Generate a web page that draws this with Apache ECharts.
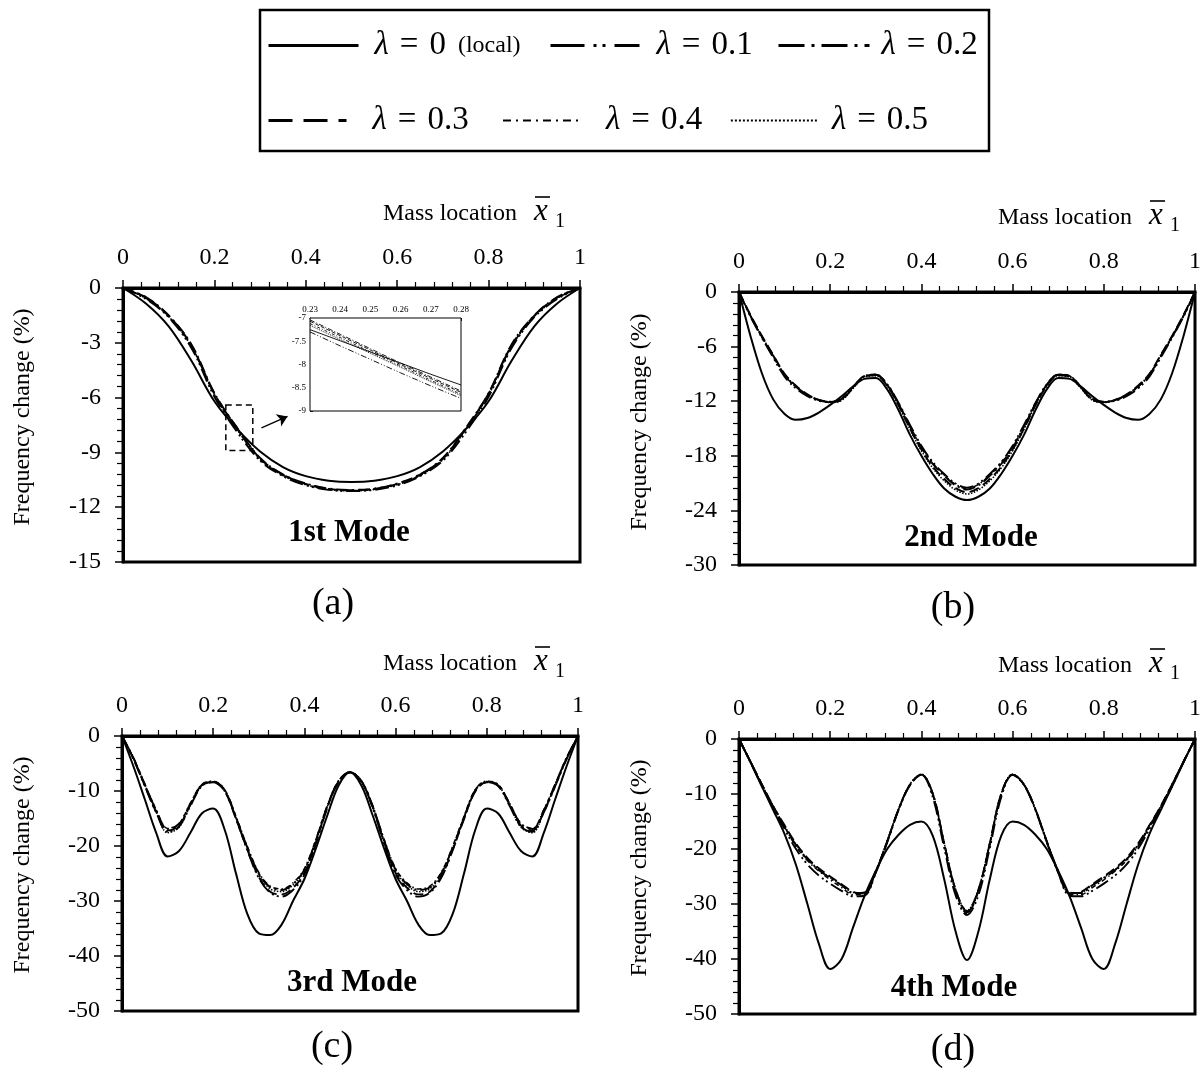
<!DOCTYPE html>
<html>
<head>
<meta charset="utf-8">
<script src="https://cdn.jsdelivr.net/npm/echarts/dist/echarts.min.js"></script>
<style>
  html, body { margin: 0; padding: 0; background: #fff; }
  #chart { width: 1202px; height: 1076px; }
</style>
</head>
<body>
<div id="chart"></div>
<script>
// ---- data -------------------------------------------------------------
const lambdaNames = ['λ = 0 (local)', 'λ = 0.1', 'λ = 0.2', 'λ = 0.3', 'λ = 0.4', 'λ = 0.5'];
const lambdaValues = ['0', '0.1', '0.2', '0.3', '0.4', '0.5'];
const modeTitles = ['1st Mode', '2nd Mode', '3rd Mode', '4th Mode'];
const panelLetters = ['(a)', '(b)', '(c)', '(d)'];
const xTickStep = 0.2;
const yLimits = [[-15, 0, 3], [-30, 0, 6], [-50, 0, 10], [-50, 0, 10]];

// mass location, mode 1
const xMode1 = [0, 0.05, 0.1, 0.15, 0.2, 0.25, 0.3, 0.35, 0.4, 0.45, 0.5, 0.55, 0.6, 0.65, 0.7, 0.75, 0.8, 0.85, 0.9, 0.95, 1];
// mass location, modes 2-4
const xFine = [0, 0.025, 0.05, 0.075, 0.1, 0.125, 0.15, 0.175, 0.2, 0.225, 0.25, 0.275, 0.3, 0.325, 0.35, 0.375, 0.4, 0.425, 0.45, 0.475, 0.5,
  0.525, 0.55, 0.575, 0.6, 0.625, 0.65, 0.675, 0.7, 0.725, 0.75, 0.775, 0.8, 0.825, 0.85, 0.875, 0.9, 0.925, 0.95, 0.975, 1];

// 1st mode frequency change (%)
const m1_l0 = [0, -0.85, -2.1, -4.0, -6.2, -7.73, -8.95, -9.8, -10.3, -10.55, -10.62, -10.55, -10.3, -9.8, -8.95, -7.73, -6.2, -4.0, -2.1, -0.85, 0];
const m1_l1 = [0, -0.6, -1.6, -3.3, -5.95, -7.89, -9.45, -10.3, -10.8, -11.05, -11.12, -11.05, -10.8, -10.3, -9.45, -7.89, -5.95, -3.3, -1.6, -0.6, 0];
const m1_l2 = [0, -0.5, -1.5, -3.1, -5.75, -7.66, -9.3, -10.2, -10.7, -10.98, -11.05, -10.98, -10.7, -10.2, -9.3, -7.66, -5.75, -3.1, -1.5, -0.5, 0];
const m1_l3 = [0, -0.52, -1.52, -3.15, -5.78, -7.69, -9.33, -10.22, -10.72, -11.0, -11.07, -11.0, -10.72, -10.22, -9.33, -7.69, -5.78, -3.15, -1.52, -0.52, 0];
const m1_l4 = [0, -0.55, -1.55, -3.2, -5.82, -7.73, -9.36, -10.25, -10.75, -11.02, -11.09, -11.02, -10.75, -10.25, -9.36, -7.73, -5.82, -3.2, -1.55, -0.55, 0];
const m1_l5 = [0, -0.57, -1.57, -3.22, -5.85, -7.76, -9.39, -10.27, -10.77, -11.03, -11.1, -11.03, -10.77, -10.27, -9.39, -7.76, -5.85, -3.22, -1.57, -0.57, 0];

// 2nd mode
const m2_l0 = [0, -4.8, -8.9, -11.8, -13.4, -14.05, -13.85, -13.25, -12.4, -11.45, -10.4, -9.55, -9.45, -10.7, -13.0, -15.7, -18.0, -20.0, -21.6, -22.5, -22.86,
  -22.5, -21.6, -20.0, -18.0, -15.7, -13.0, -10.7, -9.45, -9.55, -10.4, -11.45, -12.4, -13.25, -13.85, -14.05, -13.4, -11.8, -8.9, -4.8, 0];
const m2_l1 = [0, -2.7, -5.0, -7.2, -9.3, -10.6, -11.45, -11.95, -12.1, -11.75, -10.45, -9.25, -9.1, -10.15, -12.2, -14.6, -16.9, -18.7, -20.0, -21.05, -21.5,
  -21.05, -20.0, -18.7, -16.9, -14.6, -12.2, -10.15, -9.1, -9.25, -10.45, -11.75, -12.1, -11.95, -11.45, -10.6, -9.3, -7.2, -5.0, -2.7, 0];
const m2_l2 = [0, -2.6, -4.9, -7.0, -9.1, -10.4, -11.3, -11.85, -12.05, -11.75, -10.45, -9.25, -9.1, -10.2, -12.3, -14.8, -17.1, -18.9, -20.2, -21.25, -21.7,
  -21.25, -20.2, -18.9, -17.1, -14.8, -12.3, -10.2, -9.1, -9.25, -10.45, -11.75, -12.05, -11.85, -11.3, -10.4, -9.1, -7.0, -4.9, -2.6, 0];
const m2_l3 = [0, -2.5, -4.8, -6.9, -9.0, -10.3, -11.25, -11.85, -12.1, -11.85, -10.55, -9.3, -9.15, -10.3, -12.45, -15.0, -17.3, -19.2, -20.55, -21.55, -22.0,
  -21.55, -20.55, -19.2, -17.3, -15.0, -12.45, -10.3, -9.15, -9.3, -10.55, -11.85, -12.1, -11.85, -11.25, -10.3, -9.0, -6.9, -4.8, -2.5, 0];
const m2_l4 = [0, -2.6, -4.95, -7.1, -9.15, -10.45, -11.35, -11.9, -12.05, -11.7, -10.4, -9.2, -9.05, -10.15, -12.25, -14.75, -17.0, -18.8, -20.1, -21.15, -21.6,
  -21.15, -20.1, -18.8, -17.0, -14.75, -12.25, -10.15, -9.05, -9.2, -10.4, -11.7, -12.05, -11.9, -11.35, -10.45, -9.15, -7.1, -4.95, -2.6, 0];
const m2_l5 = [0, -2.55, -4.85, -6.95, -9.05, -10.35, -11.3, -11.9, -12.15, -11.9, -10.6, -9.35, -9.2, -10.35, -12.5, -15.1, -17.45, -19.35, -20.75, -21.75, -22.2,
  -21.75, -20.75, -19.35, -17.45, -15.1, -12.5, -10.35, -9.2, -9.35, -10.6, -11.9, -12.15, -11.9, -11.3, -10.35, -9.05, -6.95, -4.85, -2.55, 0];

// 3rd mode
const m3_l0 = [0, -5.5, -11.5, -17.6, -21.9, -20.9, -17.6, -14.1, -13.2, -17.0, -25.0, -32.4, -35.9, -36.2, -34.3, -30.0, -26.0, -20.5, -14.5, -9.0, -6.6,
  -9.0, -14.5, -20.5, -26.0, -30.0, -34.3, -36.2, -35.9, -32.4, -25.0, -17.0, -13.2, -14.1, -17.6, -20.9, -21.9, -17.6, -11.5, -5.5, 0];
const m3_l1 = [0, -4.2, -9.1, -13.9, -17.4, -16.5, -12.7, -9.1, -8.4, -10.0, -15.0, -20.8, -25.8, -28.5, -29.2, -28.0, -25.2, -19.6, -13.1, -8.3, -6.6,
  -8.3, -13.1, -19.6, -25.2, -28.0, -29.2, -28.5, -25.8, -20.8, -15.0, -10.0, -8.4, -9.1, -12.7, -16.5, -17.4, -13.9, -9.1, -4.2, 0];
const m3_l2 = [0, -4.0, -8.8, -13.5, -16.9, -16.0, -12.3, -8.9, -8.3, -9.8, -14.8, -20.3, -25.0, -27.5, -28.0, -26.9, -24.3, -19.0, -12.8, -8.2, -6.6,
  -8.2, -12.8, -19.0, -24.3, -26.9, -28.0, -27.5, -25.0, -20.3, -14.8, -9.8, -8.3, -8.9, -12.3, -16.0, -16.9, -13.5, -8.8, -4.0, 0];
const m3_l3 = [0, -4.1, -9.0, -13.8, -17.2, -16.3, -12.5, -9.0, -8.4, -10.0, -15.1, -20.7, -25.6, -28.3, -28.8, -27.6, -24.9, -19.4, -13.0, -8.3, -6.6,
  -8.3, -13.0, -19.4, -24.9, -27.6, -28.8, -28.3, -25.6, -20.7, -15.1, -10.0, -8.4, -9.0, -12.5, -16.3, -17.2, -13.8, -9.0, -4.1, 0];
const m3_l4 = [0, -3.9, -8.7, -13.4, -16.8, -15.9, -12.2, -8.8, -8.2, -9.7, -14.6, -20.1, -24.8, -27.3, -27.8, -26.7, -24.1, -18.8, -12.7, -8.1, -6.6,
  -8.1, -12.7, -18.8, -24.1, -26.7, -27.8, -27.3, -24.8, -20.1, -14.6, -9.7, -8.2, -8.8, -12.2, -15.9, -16.8, -13.4, -8.7, -3.9, 0];
const m3_l5 = [0, -4.0, -8.9, -13.7, -17.6, -16.6, -12.5, -9.0, -8.3, -9.9, -14.9, -20.4, -25.2, -27.8, -28.3, -27.1, -24.5, -19.1, -12.9, -8.2, -6.6,
  -8.2, -12.9, -19.1, -24.5, -27.1, -28.3, -27.8, -25.2, -20.4, -14.9, -9.9, -8.3, -9.0, -12.5, -16.6, -17.6, -13.7, -8.9, -4.0, 0];

// 4th mode
const m4_l0 = [0, -4.2, -8.6, -12.9, -17.3, -22.9, -30.0, -37.2, -41.8, -40.0, -34.3, -28.6, -24.0, -20.0, -17.4, -15.6, -15.0, -17.6, -25.5, -35.0, -40.2,
  -35.0, -25.5, -17.6, -15.0, -15.6, -17.4, -20.0, -24.0, -28.6, -34.3, -40.0, -41.8, -37.2, -30.0, -22.9, -17.3, -12.9, -8.6, -4.2, 0];
const m4_l1 = [0, -4.2, -8.5, -12.6, -16.4, -20.0, -22.8, -24.8, -26.3, -27.6, -28.6, -28.5, -24.3, -18.8, -12.9, -8.4, -6.5, -10.6, -19.8, -28.4, -32.0,
  -28.4, -19.8, -10.6, -6.5, -8.4, -12.9, -18.8, -24.3, -28.5, -28.6, -27.6, -26.3, -24.8, -22.8, -20.0, -16.4, -12.6, -8.5, -4.2, 0];
const m4_l2 = [0, -4.1, -8.3, -12.3, -15.9, -19.3, -21.9, -23.8, -25.3, -26.6, -28.0, -27.9, -24.0, -18.6, -12.8, -8.3, -6.5, -10.0, -19.0, -27.5, -31.5,
  -27.5, -19.0, -10.0, -6.5, -8.3, -12.8, -18.6, -24.0, -27.9, -28.0, -26.6, -25.3, -23.8, -21.9, -19.3, -15.9, -12.3, -8.3, -4.1, 0];
const m4_l3 = [0, -4.1, -8.2, -12.2, -15.7, -19.0, -21.6, -23.5, -25.0, -26.4, -27.8, -28.1, -24.2, -18.7, -12.8, -8.3, -6.5, -10.0, -19.0, -27.4, -31.3,
  -27.4, -19.0, -10.0, -6.5, -8.3, -12.8, -18.7, -24.2, -28.1, -27.8, -26.4, -25.0, -23.5, -21.6, -19.0, -15.7, -12.2, -8.2, -4.1, 0];
const m4_l4 = [0, -4.1, -8.3, -12.4, -16.0, -19.5, -22.1, -24.0, -25.6, -27.0, -28.3, -28.2, -24.1, -18.6, -12.8, -8.3, -6.5, -10.1, -19.2, -27.7, -31.8,
  -27.7, -19.2, -10.1, -6.5, -8.3, -12.8, -18.6, -24.1, -28.2, -28.3, -27.0, -25.6, -24.0, -22.1, -19.5, -16.0, -12.4, -8.3, -4.1, 0];
const m4_l5 = [0, -4.0, -8.2, -12.2, -15.8, -19.2, -21.8, -23.7, -25.2, -26.5, -27.9, -28.0, -24.0, -18.5, -12.7, -8.2, -6.4, -9.9, -18.9, -27.3, -31.2,
  -27.3, -18.9, -9.9, -6.4, -8.2, -12.7, -18.5, -24.0, -28.0, -27.9, -26.5, -25.2, -23.7, -21.8, -19.2, -15.8, -12.2, -8.2, -4.0, 0];

// magnified window of the 1st mode
const xInset = [0.23, 0.24, 0.25, 0.26, 0.27, 0.28];
const inset_l0 = [-7.25, -7.49, -7.73, -7.97, -8.21, -8.44];
const inset_l1 = [-7.30, -7.60, -7.89, -8.18, -8.46, -8.73];
const inset_l2 = [-7.04, -7.35, -7.66, -7.97, -8.27, -8.57];
const inset_l3 = [-7.07, -7.38, -7.69, -8.00, -8.30, -8.60];
const inset_l4 = [-7.12, -7.42, -7.73, -8.03, -8.34, -8.64];
const inset_l5 = [-7.16, -7.46, -7.76, -8.06, -8.37, -8.67];
const insetXRange = [0.23, 0.28, 0.01];
const insetYRange = [-9, -7, 0.5];

// ---- assembly ---------------------------------------------------------
const FONT = '"Liberation Serif", "Times New Roman", serif';
const panelX = [xMode1, xFine, xFine, xFine];
const panelY = [
  [m1_l0, m1_l1, m1_l2, m1_l3, m1_l4, m1_l5],
  [m2_l0, m2_l1, m2_l2, m2_l3, m2_l4, m2_l5],
  [m3_l0, m3_l1, m3_l2, m3_l3, m3_l4, m3_l5],
  [m4_l0, m4_l1, m4_l2, m4_l3, m4_l4, m4_l5]
];
const insetY = [inset_l0, inset_l1, inset_l2, inset_l3, inset_l4, inset_l5];

const grids = [
  { left: 123, top: 288, width: 457, height: 274 },
  { left: 739, top: 292, width: 456, height: 273 },
  { left: 122, top: 736, width: 456, height: 275 },
  { left: 739, top: 739, width: 456, height: 275 }
];

// line dash for each lambda: plot, legend, inset
const plotDash = ['solid', [14, 4, 2, 3, 2, 4], [12, 4, 2, 4], [10, 5], [5, 3, 1.5, 3], [1.5, 1.5]];
const plotWidth = [2, 1.9, 1.9, 1.9, 1.5, 1.5];
const legendDash = ['solid', [34, 9, 3, 6, 3, 9], [26, 7, 3, 7], [24, 11], [8, 5, 2, 5], [2, 2]];
const legendWidth = [3, 3, 3, 3, 2, 1.8];
const insetDash = ['solid', [6, 2, 1, 2, 1, 2], [5, 2, 1, 2], [4, 2], [3, 2, 1, 2], [1, 1]];

const pairs = (xs, ys) => xs.map((x, i) => [x, ys[i]]);

const option = {
  backgroundColor: '#fff',
  animation: false,
  color: ['#000'],
  grid: grids.map(g => Object.assign({
    show: true, borderColor: '#000', borderWidth: 3, backgroundColor: 'transparent',
    containLabel: false, outerBoundsMode: 'none'
  }, g)).concat([{
    left: 310, top: 318, width: 151, height: 93, show: true, borderColor: '#000', borderWidth: 1,
    backgroundColor: '#fff', containLabel: false, outerBoundsMode: 'none', z: 4
  }]),
  xAxis: grids.map((g, i) => ({
    gridIndex: i, type: 'value', position: 'top', min: 0, max: 1, interval: xTickStep,
    axisLine: { show: true, onZero: false, lineStyle: { color: '#000', width: 3 } },
    axisTick: { show: true, length: 8, lineStyle: { color: '#000', width: 1.5 } },
    minorTick: { show: true, splitNumber: 5, length: 6, lineStyle: { color: '#000', width: 1.2 } },
    axisLabel: { margin: 18, fontSize: 24, fontFamily: FONT, color: '#000' },
    splitLine: { show: false }, minorSplitLine: { show: false }
  })).concat([{
    gridIndex: 4, type: 'value', position: 'top', min: insetXRange[0], max: insetXRange[1], interval: insetXRange[2],
    axisLine: { show: true, onZero: false, lineStyle: { color: '#000', width: 1 } },
    axisTick: { show: true, inside: true, length: 3, lineStyle: { color: '#000', width: 0.8 } },
    minorTick: { show: true, splitNumber: 5, length: 2, lineStyle: { color: '#000', width: 0.6 } },
    axisLabel: { margin: 4, fontSize: 9, fontFamily: FONT, color: '#000' },
    splitLine: { show: false }
  }]),
  yAxis: grids.map((g, i) => ({
    gridIndex: i, type: 'value', position: 'left', min: yLimits[i][0], max: yLimits[i][1], interval: yLimits[i][2],
    axisLine: { show: true, onZero: false, lineStyle: { color: '#000', width: 3 } },
    axisTick: { show: true, length: 8, lineStyle: { color: '#000', width: 1.5 } },
    minorTick: { show: true, splitNumber: 5, length: 6, lineStyle: { color: '#000', width: 1.2 } },
    axisLabel: { margin: 22, fontSize: 24, fontFamily: FONT, color: '#000' },
    splitLine: { show: false }, minorSplitLine: { show: false }
  })).concat([{
    gridIndex: 4, type: 'value', position: 'left', min: insetYRange[0], max: insetYRange[1], interval: insetYRange[2],
    axisLine: { show: true, onZero: false, lineStyle: { color: '#000', width: 1 } },
    axisTick: { show: true, inside: true, length: 3, lineStyle: { color: '#000', width: 0.8 } },
    minorTick: { show: true, splitNumber: 5, length: 2, lineStyle: { color: '#000', width: 0.6 } },
    axisLabel: { margin: 4, fontSize: 9, fontFamily: FONT, color: '#000' },
    splitLine: { show: false }
  }]),
  series: [],
  legend: [],
  graphic: []
};

// curves of the four modes
panelY.forEach((set, p) => {
  set.forEach((ys, k) => {
    const s = {
      type: 'line', name: lambdaNames[k], xAxisIndex: p, yAxisIndex: p,
      data: pairs(panelX[p], ys), symbol: 'none', smooth: 0.35, silent: true,
      z: k === 0 ? 3 : 2,
      itemStyle: { color: '#000' },
      lineStyle: { color: '#000', width: plotWidth[k], type: plotDash[k] }
    };
    if (p === 0 && k === 0) {
      // dashed window that is magnified in the inset, plus pointer arrow
      s.markArea = {
        silent: true, label: { show: false },
        itemStyle: { color: 'rgba(0,0,0,0)', borderColor: '#000', borderWidth: 1.5, borderType: [6, 4] },
        data: [[{ coord: [0.225, -6.4] }, { coord: [0.284, -8.9] }]]
      };
      s.markLine = {
        silent: true, symbol: ['none', 'arrow'], symbolSize: 10, label: { show: false },
        lineStyle: { color: '#000', width: 1.3, type: 'solid' },
        itemStyle: { color: '#000' },
        data: [[{ coord: [0.303, -7.66] }, { coord: [0.36, -7.03] }]]
      };
    }
    option.series.push(s);
  });
});

// inset curves
insetY.forEach((ys, k) => {
  option.series.push({
    type: 'line', name: lambdaNames[k], xAxisIndex: 4, yAxisIndex: 4,
    data: pairs(xInset, ys), symbol: 'none', silent: true, z: 6,
    itemStyle: { color: '#000' },
    lineStyle: { color: '#000', width: 0.9, type: insetDash[k] }
  });
});

// legend entries, one component per entry
const legendSlots = [
  { x: 267, y: 48, w: 90, gap: 11 },
  { x: 549, y: 48, w: 89, gap: 12 },
  { x: 777, y: 48, w: 91, gap: 7 },
  { x: 267, y: 123, w: 78, gap: 21 },
  { x: 502, y: 123, w: 80, gap: 18 },
  { x: 730, y: 123, w: 87, gap: 9 }
];
legendSlots.forEach((slot, k) => {
  option.legend.push({
    data: [lambdaNames[k]], left: slot.x, top: slot.y - 19, padding: 0,
    itemWidth: slot.w, itemHeight: 14, selectedMode: false, orient: 'horizontal',
    itemStyle: { opacity: 0, borderWidth: 0, color: 'rgba(0,0,0,0)' },
    lineStyle: { width: legendWidth[k], type: legendDash[k], color: '#000', opacity: 1 },
    formatter: () => '{l|λ}{m|\u2004=\u2004' + lambdaValues[k] + '}' + (k === 0 ? '{s|\u2002(local)}' : ''),
    textStyle: {
      color: '#000', fontFamily: FONT,
      rich: {
        l: { fontFamily: FONT, fontStyle: 'italic', fontSize: 33, color: '#000', padding: [0, 0, 0, slot.gap] },
        m: { fontFamily: FONT, fontSize: 33, color: '#000' },
        s: { fontFamily: FONT, fontSize: 24, color: '#000' }
      }
    }
  });
});

// frame around the legend
option.graphic.push({
  type: 'rect', silent: true, z: 10,
  shape: { x: 260, y: 10, width: 729, height: 141 },
  style: { fill: 'none', stroke: '#000', lineWidth: 2.5 }
});

// panel annotations
const txt = (s, x, y, font, extra) => Object.assign({
  type: 'text', silent: true, z: 10,
  style: Object.assign({ text: s, x: x, y: y, fill: '#000', fontFamily: FONT, align: 'center', verticalAlign: 'middle' }, font)
}, extra || {});

const axisNameSpots = [
  { right: 517, y: 214, xl: 534 },
  { right: 1132, y: 218, xl: 1149 },
  { right: 517, y: 664, xl: 534 },
  { right: 1132, y: 666, xl: 1149 }
];
axisNameSpots.forEach(a => {
  option.graphic.push(txt('Mass location', a.right, a.y, { fontSize: 24, align: 'right' }));
  option.graphic.push(txt('x', a.xl, a.y - 2, { fontSize: 31, fontStyle: 'italic', align: 'left' }));
  option.graphic.push({
    type: 'line', silent: true, z: 10,
    shape: { x1: a.xl + 1, y1: a.y - 17, x2: a.xl + 16, y2: a.y - 17 },
    style: { stroke: '#000', lineWidth: 1.6 }
  });
  option.graphic.push(txt('1', a.xl + 21, a.y + 8, { fontSize: 20, align: 'left' }));
});

const yTitleSpots = [[23, 417], [640, 422], [23, 865], [640, 868]];
yTitleSpots.forEach(([x, y]) => {
  option.graphic.push({
    type: 'text', silent: true, z: 10, x: x, y: y, rotation: Math.PI / 2,
    style: { text: 'Frequency change (%)', x: 0, y: 0, fill: '#000', fontFamily: FONT, fontSize: 24, align: 'center', verticalAlign: 'middle' }
  });
});

const modeSpots = [[349, 533], [971, 538], [352, 983], [954, 988]];
modeSpots.forEach(([x, y], i) => {
  option.graphic.push(txt(modeTitles[i], x, y, { fontSize: 31, fontWeight: 'bold' }));
});

const letterSpots = [[333, 604], [953, 608], [332, 1047], [953, 1050]];
letterSpots.forEach(([x, y], i) => {
  option.graphic.push(txt(panelLetters[i], x, y, { fontSize: 38 }));
});

const chart = echarts.init(document.getElementById('chart'), null, { renderer: 'canvas' });
chart.setOption(option);
</script>
</body>
</html>
